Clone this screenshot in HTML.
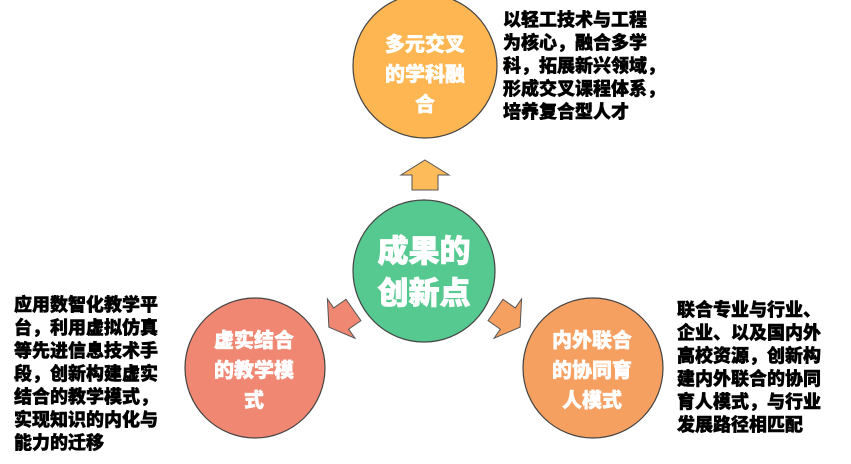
<!DOCTYPE html>
<html><head><meta charset="utf-8"><style>
html,body{margin:0;padding:0;background:#fff;}
svg{display:block;}
.t{font-family:"Liberation Sans","Noto Sans CJK SC",sans-serif;font-weight:900;}
</style></head><body>
<svg width="851" height="464" viewBox="0 0 851 464" xmlns="http://www.w3.org/2000/svg">
<defs>
<g id="arr"><polygon points="0,-16 24,-1 13,-1 13,14 -13,14 -13,-1 -24,-1" stroke="#555" stroke-width="1"/></g>
</defs>
<circle cx="425" cy="66" r="72" fill="#FDB651" stroke="#444" stroke-width="1.2"/>
<circle cx="424" cy="271" r="71" fill="#56C991" stroke="#444" stroke-width="1.2"/>
<circle cx="255" cy="368" r="70" fill="#EF8772" stroke="#444" stroke-width="1.2"/>
<circle cx="593" cy="368" r="70" fill="#F59F61" stroke="#444" stroke-width="1.2"/>
<use href="#arr" transform="translate(425,176)" fill="#FDBB5A"/>
<use href="#arr" transform="translate(342,318) rotate(-125)" fill="#EF8772"/>
<use href="#arr" transform="translate(507,318) rotate(125)" fill="#F59F61"/>
<g class="t" fill="#fff" stroke="#fff" stroke-width="0.5" font-size="20" text-anchor="middle">
<text x="425" y="51">多元交叉</text>
<text x="425" y="81">的学科融</text>
<text x="425" y="111">合</text>
<text x="254" y="347">虚实结合</text>
<text x="254" y="377">的教学模</text>
<text x="254" y="407">式</text>
<text x="592" y="347">内外联合</text>
<text x="592" y="377">的协同育</text>
<text x="592" y="407">人模式</text>
</g>
<g class="t" fill="#fff" stroke="#fff" stroke-width="0.8" font-size="31" text-anchor="middle">
<text x="424" y="262">成果的</text>
<text x="424" y="304">创新点</text>
</g>
<g class="t" fill="#000" stroke="#000" stroke-width="0.5" font-size="18">
<text x="503" y="26">以轻工技术与工程</text>
<text x="503" y="49">为核心，融合多学</text>
<text x="503" y="72">科，拓展新兴领域，</text>
<text x="503" y="95">形成交叉课程体系，</text>
<text x="503" y="118">培养复合型人才</text>
<text x="677" y="316">联合专业与行业、</text>
<text x="677" y="339">企业、以及国内外</text>
<text x="677" y="362">高校资源，创新构</text>
<text x="677" y="385">建内外联合的协同</text>
<text x="677" y="408">育人模式，与行业</text>
<text x="677" y="431">发展路径相匹配</text>
<text x="14" y="311">应用数智化教学平</text>
<text x="14" y="334">台，利用虚拟仿真</text>
<text x="14" y="357">等先进信息技术手</text>
<text x="14" y="380">段，创新构建虚实</text>
<text x="14" y="403">结合的教学模式，</text>
<text x="14" y="426">实现知识的内化与</text>
<text x="14" y="449">能力的迁移</text>
</g>
</svg>
</body></html>
